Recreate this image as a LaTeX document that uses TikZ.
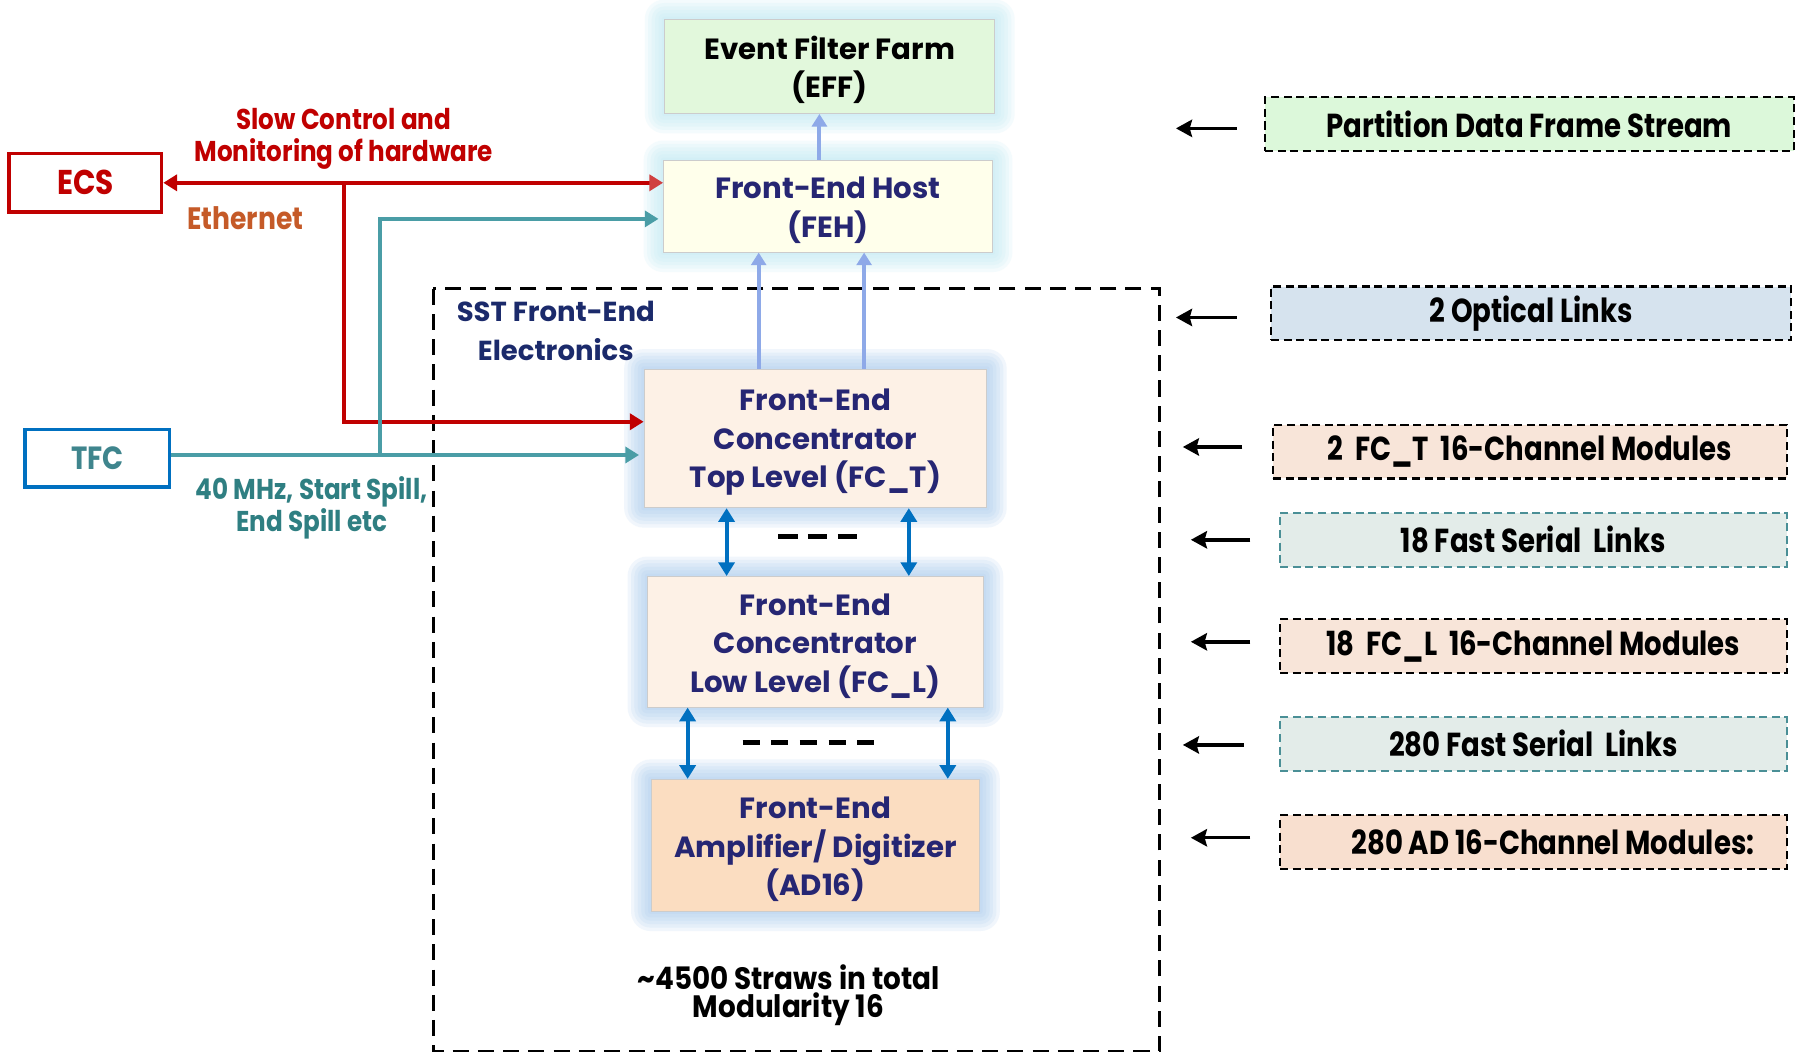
\documentclass[tikz,border=0pt]{standalone}
\usepackage{fontspec}
\setmainfont{Poppins}
\newfontfamily\cf{Poppins}[FakeStretch=0.83]
\newfontfamily\cfl{Poppins}[FakeStretch=0.86]
\newfontfamily\cfs{Poppins}[FakeStretch=0.9]
\usetikzlibrary{arrows.meta,backgrounds,calc}
\newcommand\topstrut{\rule{0pt}{26pt}}
\definecolor{redc}{HTML}{C00000}
\definecolor{ethc}{HTML}{C55A28}
\definecolor{tealc}{HTML}{4A9DA6}
\definecolor{tealt}{HTML}{2F7F82}
\definecolor{tfcb}{HTML}{0070C0}
\definecolor{navy}{HTML}{262673}
\definecolor{sstc}{HTML}{1B2A6B}
\definecolor{lbl}{HTML}{8EA9E8}
\definecolor{dblc}{HTML}{0070C0}
\definecolor{efff}{HTML}{E2F8DC}
\definecolor{fehf}{HTML}{FFFFEB}
\definecolor{fcf}{HTML}{FDF1E6}
\definecolor{adf}{HTML}{FBDDC1}
\definecolor{glowc}{HTML}{BFEAF3}
\definecolor{glowb}{HTML}{A9CBEE}
\definecolor{rgreen}{HTML}{DCF8DA}
\definecolor{rblue}{HTML}{D6E3EE}
\definecolor{rpeach}{HTML}{F8E5D9}
\definecolor{rteal}{HTML}{E3ECE9}
\definecolor{rpeach2}{HTML}{F8DFCF}
\definecolor{tdash}{HTML}{4A8F96}
\tikzset{
  cbox/.style={draw=black!20, line width=0.8pt, inner sep=0pt, align=center,
    font=\bfseries\fontsize{25.5}{33.5}\selectfont, text=navy},
  rbox/.style={draw=black, dash pattern=on 7pt off 4pt, line width=1.8pt, inner sep=0pt,
    minimum height=47pt, align=center, font=\cf\bfseries\fontsize{29}{30}\selectfont},
  sidearr/.style={line width=3pt, -{Stealth[length=14pt,width=15pt,inset=2pt]}},
  uparr/.style={lbl, line width=3.5pt, -{Triangle[length=11pt,width=13pt]}},
  dblarr/.style={dblc, line width=3.5pt, {Triangle[length=12pt,width=14pt]}-{Triangle[length=12pt,width=14pt]}},
  redarr/.style={redc, line width=3.5pt},
  tealarr/.style={tealc, line width=3.5pt},
  lab/.style={align=center, font=\cfl\bfseries\fontsize{25}{28}\selectfont},
}
\begin{document}
\begin{tikzpicture}[x=1pt,y=-1pt]
\useasboundingbox (0,0) rectangle (1568,919);
% central boxes
\node[cbox, fill=efff, text=black, minimum width=288pt, minimum height=82pt] (eff) at (724,58) {\topstrut Event Filter Farm\\(EFF)};
\node[cbox, fill=fehf, minimum width=287pt, minimum height=80pt] (feh) at (722.5,180) {\topstrut Front-End Host\\(FEH)};
\node[cbox, fill=fcf, minimum width=299pt, minimum height=121pt] (fct) at (711.5,382.5) {\topstrut Front-End\\Concentrator\\Top Level (FC\_T)};
\node[cbox, fill=fcf, minimum width=293pt, minimum height=114pt] (fcl) at (711.5,560) {\topstrut Front-End\\Concentrator\\Low Level (FC\_L)};
\node[cbox, fill=adf, minimum width=287pt, minimum height=115pt] (ad) at (711.5,737.5) {\topstrut Front-End\\Amplifier/ Digitizer\\(AD16)};
% glow
\begin{scope}[on background layer]
\fill[white] (0,0) rectangle (1568,919);
\foreach \n/\c in {eff/glowc,feh/glowc,fct/glowb,fcl/glowb,ad/glowb}{
  \foreach \r in {2,5,8,11,14,17}{
    \fill[\c, opacity=0.16, rounded corners=\r pt] ([shift={(-\r pt,\r pt)}]\n.north west) rectangle ([shift={(\r pt,-\r pt)}]\n.south east);
  }
}
\end{scope}
% SST dashed frame
\draw[line width=2.3pt, dash pattern=on 14pt off 8pt] (378,252) rectangle (1012,917);
\node[align=center, text=sstc, font=\bfseries\fontsize{24}{34}\selectfont] (sst) at (485,289) {SST Front-End\\Electronics};
% ECS, TFC
\node[draw=redc, line width=3pt, minimum width=133pt, minimum height=51pt, text=redc, font=\cfl\bfseries\fontsize{30}{30}\selectfont] (ecs) at (74.5,159.5) {ECS};
\node[draw=tfcb, line width=3pt, minimum width=126pt, minimum height=50pt, text=tealc!85!black, font=\cfl\bfseries\fontsize{28}{30}\selectfont] (tfc) at (85,400) {TFC};
% connectors central
\draw[uparr] ([xshift=-7.5pt]feh.north) -- ([xshift=-7.5pt]feh.north |- eff.south);
\draw[uparr] ([xshift=-49.5pt]fct.north) -- ([xshift=-49.5pt]fct.north |- feh.south);
\draw[uparr] ([xshift=42.5pt]fct.north) -- ([xshift=42.5pt]fct.north |- feh.south);
\draw[dblarr] ([xshift=-77.5pt]fct.south) -- ([xshift=-77.5pt]fct.south |- fcl.north);
\draw[dblarr] ([xshift=81.5pt]fct.south) -- ([xshift=81.5pt]fct.south |- fcl.north);
\draw[dblarr] ([xshift=-111.5pt]fcl.south) -- ([xshift=-111.5pt]fcl.south |- ad.north);
\draw[dblarr] ([xshift=115.5pt]fcl.south) -- ([xshift=115.5pt]fcl.south |- ad.north);
\draw[line width=4pt, dash pattern=on 17pt off 9pt] (679,468) -- (748,468);
\draw[line width=4pt, dash pattern=on 15pt off 10pt] (648,648) -- (763,648);
% ECS connections
\coordinate (j1) at (300,160);
\draw[redarr, {Triangle[length=12pt,width=14pt]}-{Triangle[length=12pt,width=14pt,color=redc!75]}] (ecs.east) -- (ecs.east -| feh.west);
\draw[redarr, -{Triangle[length=12pt,width=14pt]}] (j1) |- ([yshift=14.5pt]fct.west);
% TFC connections
\coordinate (j2) at (332,397);
\draw[tealarr, -{Triangle[length=12pt,width=14pt]}] ([yshift=3pt]tfc.east) -- ([xshift=-4pt,yshift=3pt]tfc.east -| fct.west);
\draw[tealarr, -{Triangle[length=12pt,width=14pt]}] (j2) |- ([xshift=-4pt,yshift=-11pt]feh.west);
% labels
\node[lab, text=redc] (slow) at (300,121) {Slow Control and\\Monitoring of hardware};
\node[lab, text=ethc, font=\cfl\bfseries\fontsize{27}{28}\selectfont] (eth) at (214,190) {Ethernet};
\node[lab, text=tealt] (mhz) at (272,443) {40 MHz, Start Spill,\\End Spill etc};
\node[align=center, font=\cfs\bfseries\fontsize{27}{24.5}\selectfont] (straw) at (688,868) {\textasciitilde 4500 Straws in total\\Modularity 16};
% right side boxes
\node[rbox, fill=rgreen, minimum width=461pt] (b1) at (1334.5,108.5) {Partition Data Frame Stream};
\node[rbox, fill=rblue, minimum width=454pt] (b2) at (1336,273.5) {2 Optical Links};
\node[rbox, fill=rpeach, minimum width=448pt] (b3) at (1335,394) {2\ \ FC\_T\ \ 16-Channel Modules};
\node[rbox, fill=rteal, draw=tdash, minimum width=442pt] (b4) at (1338,471) {18 Fast Serial\ \ Links};
\node[rbox, fill=rpeach, minimum width=442pt] (b5) at (1338,564) {18\ \ FC\_L\ \ 16-Channel Modules};
\node[rbox, fill=rteal, draw=tdash, minimum width=442pt] (b6) at (1338,649) {280 Fast Serial\ \ Links};
\node[rbox, fill=rpeach2, minimum width=442pt] (b7) at (1338,735) {\hspace{34pt}280 AD 16-Channel Modules:};
\draw[sidearr] ([xshift=-24pt,yshift=-3.5pt]b1.west) -- ([xshift=-77pt,yshift=-3.5pt]b1.west);
\draw[sidearr] ([xshift=-29pt,yshift=-3.5pt]b2.west) -- ([xshift=-82pt,yshift=-3.5pt]b2.west);
\draw[sidearr] ([xshift=-26pt,yshift=4pt]b3.west) -- ([xshift=-78pt,yshift=4pt]b3.west);
\draw[sidearr] ([xshift=-25pt]b4.west) -- ([xshift=-77pt]b4.west);
\draw[sidearr] ([xshift=-25pt,yshift=4pt]b5.west) -- ([xshift=-77pt,yshift=4pt]b5.west);
\draw[sidearr] ([xshift=-31pt,yshift=-1pt]b6.west) -- ([xshift=-84pt,yshift=-1pt]b6.west);
\draw[sidearr] ([xshift=-25pt,yshift=4pt]b7.west) -- ([xshift=-77pt,yshift=4pt]b7.west);
\end{tikzpicture}
\end{document}
